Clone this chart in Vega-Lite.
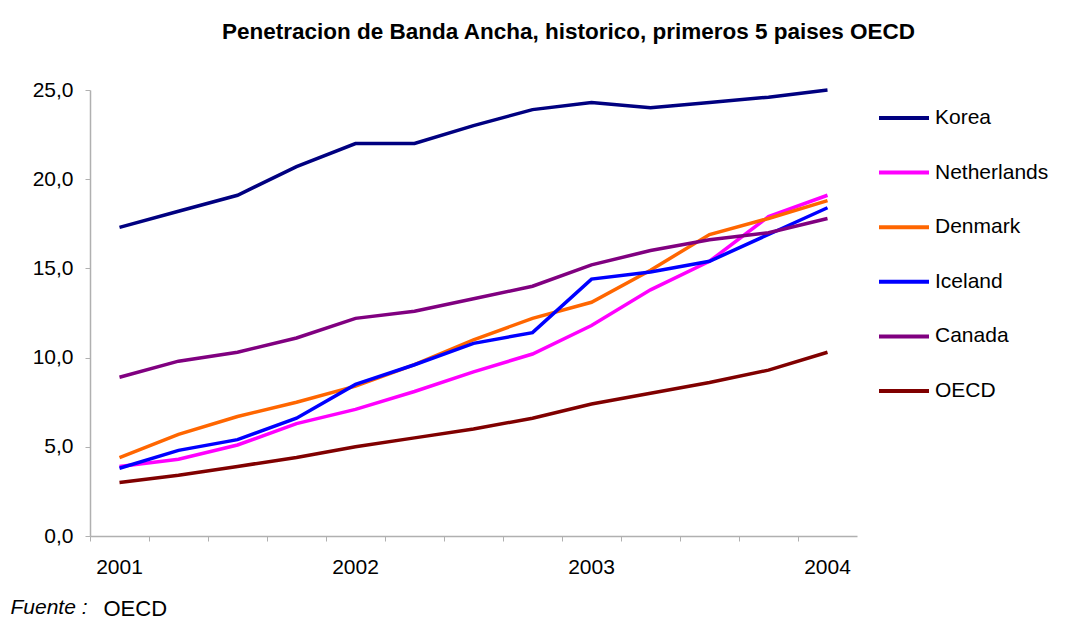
{
  "$schema": "https://vega.github.io/schema/vega-lite/v6.json",
  "autosize": {"type": "none"},
  "width": 767,
  "height": 446,
  "padding": {"left": 90, "top": 90, "right": 226, "bottom": 84},
  "background": "white",
  "config": {
    "font": "Liberation Sans",
    "view": {"stroke": null}
  },
  "title": {
    "text": "Penetracion de Banda Ancha, historico, primeros 5 paises OECD",
    "font": "Liberation Sans",
    "fontSize": 22.5,
    "fontWeight": "bold",
    "color": "black",
    "anchor": "middle",
    "dx": 95,
    "offset": 36
  },
  "data": {
    "values": [
      {"q": "2001Q1", "country": "Korea", "v": 17.3},
      {"q": "2001Q2", "country": "Korea", "v": 18.2},
      {"q": "2001Q3", "country": "Korea", "v": 19.1},
      {"q": "2001Q4", "country": "Korea", "v": 20.7},
      {"q": "2002Q1", "country": "Korea", "v": 22.0},
      {"q": "2002Q2", "country": "Korea", "v": 22.0},
      {"q": "2002Q3", "country": "Korea", "v": 23.0},
      {"q": "2002Q4", "country": "Korea", "v": 23.9},
      {"q": "2003Q1", "country": "Korea", "v": 24.3},
      {"q": "2003Q2", "country": "Korea", "v": 24.0},
      {"q": "2003Q3", "country": "Korea", "v": 24.3},
      {"q": "2003Q4", "country": "Korea", "v": 24.6},
      {"q": "2004Q1", "country": "Korea", "v": 25.0},
      {"q": "2001Q1", "country": "Netherlands", "v": 3.9},
      {"q": "2001Q2", "country": "Netherlands", "v": 4.3},
      {"q": "2001Q3", "country": "Netherlands", "v": 5.1},
      {"q": "2001Q4", "country": "Netherlands", "v": 6.3},
      {"q": "2002Q1", "country": "Netherlands", "v": 7.1},
      {"q": "2002Q2", "country": "Netherlands", "v": 8.1},
      {"q": "2002Q3", "country": "Netherlands", "v": 9.2},
      {"q": "2002Q4", "country": "Netherlands", "v": 10.2},
      {"q": "2003Q1", "country": "Netherlands", "v": 11.8},
      {"q": "2003Q2", "country": "Netherlands", "v": 13.8},
      {"q": "2003Q3", "country": "Netherlands", "v": 15.4},
      {"q": "2003Q4", "country": "Netherlands", "v": 17.9},
      {"q": "2004Q1", "country": "Netherlands", "v": 19.1},
      {"q": "2001Q1", "country": "Denmark", "v": 4.4},
      {"q": "2001Q2", "country": "Denmark", "v": 5.7},
      {"q": "2001Q3", "country": "Denmark", "v": 6.7},
      {"q": "2001Q4", "country": "Denmark", "v": 7.5},
      {"q": "2002Q1", "country": "Denmark", "v": 8.4},
      {"q": "2002Q2", "country": "Denmark", "v": 9.6},
      {"q": "2002Q3", "country": "Denmark", "v": 11.0},
      {"q": "2002Q4", "country": "Denmark", "v": 12.2},
      {"q": "2003Q1", "country": "Denmark", "v": 13.1},
      {"q": "2003Q2", "country": "Denmark", "v": 14.9},
      {"q": "2003Q3", "country": "Denmark", "v": 16.9},
      {"q": "2003Q4", "country": "Denmark", "v": 17.8},
      {"q": "2004Q1", "country": "Denmark", "v": 18.8},
      {"q": "2001Q1", "country": "Iceland", "v": 3.8},
      {"q": "2001Q2", "country": "Iceland", "v": 4.8},
      {"q": "2001Q3", "country": "Iceland", "v": 5.4},
      {"q": "2001Q4", "country": "Iceland", "v": 6.6},
      {"q": "2002Q1", "country": "Iceland", "v": 8.5},
      {"q": "2002Q2", "country": "Iceland", "v": 9.6},
      {"q": "2002Q3", "country": "Iceland", "v": 10.8},
      {"q": "2002Q4", "country": "Iceland", "v": 11.4},
      {"q": "2003Q1", "country": "Iceland", "v": 14.4},
      {"q": "2003Q2", "country": "Iceland", "v": 14.8},
      {"q": "2003Q3", "country": "Iceland", "v": 15.4},
      {"q": "2003Q4", "country": "Iceland", "v": 16.9},
      {"q": "2004Q1", "country": "Iceland", "v": 18.4},
      {"q": "2001Q1", "country": "Canada", "v": 8.9},
      {"q": "2001Q2", "country": "Canada", "v": 9.8},
      {"q": "2001Q3", "country": "Canada", "v": 10.3},
      {"q": "2001Q4", "country": "Canada", "v": 11.1},
      {"q": "2002Q1", "country": "Canada", "v": 12.2},
      {"q": "2002Q2", "country": "Canada", "v": 12.6},
      {"q": "2002Q3", "country": "Canada", "v": 13.3},
      {"q": "2002Q4", "country": "Canada", "v": 14.0},
      {"q": "2003Q1", "country": "Canada", "v": 15.2},
      {"q": "2003Q2", "country": "Canada", "v": 16.0},
      {"q": "2003Q3", "country": "Canada", "v": 16.6},
      {"q": "2003Q4", "country": "Canada", "v": 17.0},
      {"q": "2004Q1", "country": "Canada", "v": 17.8},
      {"q": "2001Q1", "country": "OECD", "v": 3.0},
      {"q": "2001Q2", "country": "OECD", "v": 3.4},
      {"q": "2001Q3", "country": "OECD", "v": 3.9},
      {"q": "2001Q4", "country": "OECD", "v": 4.4},
      {"q": "2002Q1", "country": "OECD", "v": 5.0},
      {"q": "2002Q2", "country": "OECD", "v": 5.5},
      {"q": "2002Q3", "country": "OECD", "v": 6.0},
      {"q": "2002Q4", "country": "OECD", "v": 6.6},
      {"q": "2003Q1", "country": "OECD", "v": 7.4},
      {"q": "2003Q2", "country": "OECD", "v": 8.0},
      {"q": "2003Q3", "country": "OECD", "v": 8.6},
      {"q": "2003Q4", "country": "OECD", "v": 9.3},
      {"q": "2004Q1", "country": "OECD", "v": 10.3}
    ]
  },
  "mark": {"type": "line", "strokeWidth": 3.5},
  "encoding": {
    "x": {
      "field": "q",
      "type": "ordinal",
      "sort": null,
      "scale": {"type": "band", "paddingInner": 0, "paddingOuter": 0},
      "axis": {
        "bandPosition": 0,
        "labelOffset": 0,
        "labelExpr": "indexof(datum.value, 'Q1') > 0 ? substring(datum.value, 0, 4) : ''",
        "labelOverlap": false,
        "labelAngle": 0,
        "labelFont": "Liberation Sans",
        "labelFontSize": 21,
        "labelColor": "black",
        "labelPadding": 15,
        "domainColor": "#b0b0b0",
        "domainWidth": 1.5,
        "tickColor": "#b0b0b0",
        "tickSize": 5,
        "tickWidth": 1,
        "grid": false,
        "title": "OECD",
        "titleFont": "Liberation Sans",
        "titleFontSize": 22,
        "titleFontWeight": "normal",
        "titleColor": "black",
        "titleAnchor": "start",
        "titleAlign": "left",
        "titleBaseline": "middle",
        "titleX": 13,
        "titleY": 72
      }
    },
    "y": {
      "field": "v",
      "type": "quantitative",
      "scale": {"domain": [0, 25], "nice": false, "zero": true},
      "axis": {
        "values": [0, 5, 10, 15, 20, 25],
        "labelExpr": "replace(format(datum.value, '.1f'), '.', ',')",
        "labelFont": "Liberation Sans",
        "labelFontSize": 21,
        "labelColor": "black",
        "labelPadding": 12,
        "domainColor": "#b0b0b0",
        "domainWidth": 1.5,
        "tickColor": "#b0b0b0",
        "tickSize": 5,
        "grid": false,
        "title": "Fuente :",
        "titleFont": "Liberation Sans",
        "titleFontSize": 21,
        "titleFontStyle": "italic",
        "titleFontWeight": "normal",
        "titleColor": "black",
        "titleAngle": 0,
        "titleAnchor": "start",
        "titleAlign": "left",
        "titleBaseline": "middle",
        "titleX": -80,
        "titleY": 517
      }
    },
    "color": {
      "field": "country",
      "type": "nominal",
      "scale": {
        "domain": ["Korea", "Netherlands", "Denmark", "Iceland", "Canada", "OECD"],
        "range": ["#000080", "#FF00FF", "#FF6600", "#0000FF", "#800080", "#800000"]
      },
      "legend": {
        "title": null,
        "orient": "none",
        "legendX": 787,
        "legendY": 1,
        "padding": 0,
        "symbolType": "stroke",
        "symbolSize": 2500,
        "symbolStrokeWidth": 4,
        "rowPadding": 17.6,
        "labelOffset": 4,
        "labelFont": "Liberation Sans",
        "labelFontSize": 21,
        "labelColor": "black"
      }
    }
  }
}
